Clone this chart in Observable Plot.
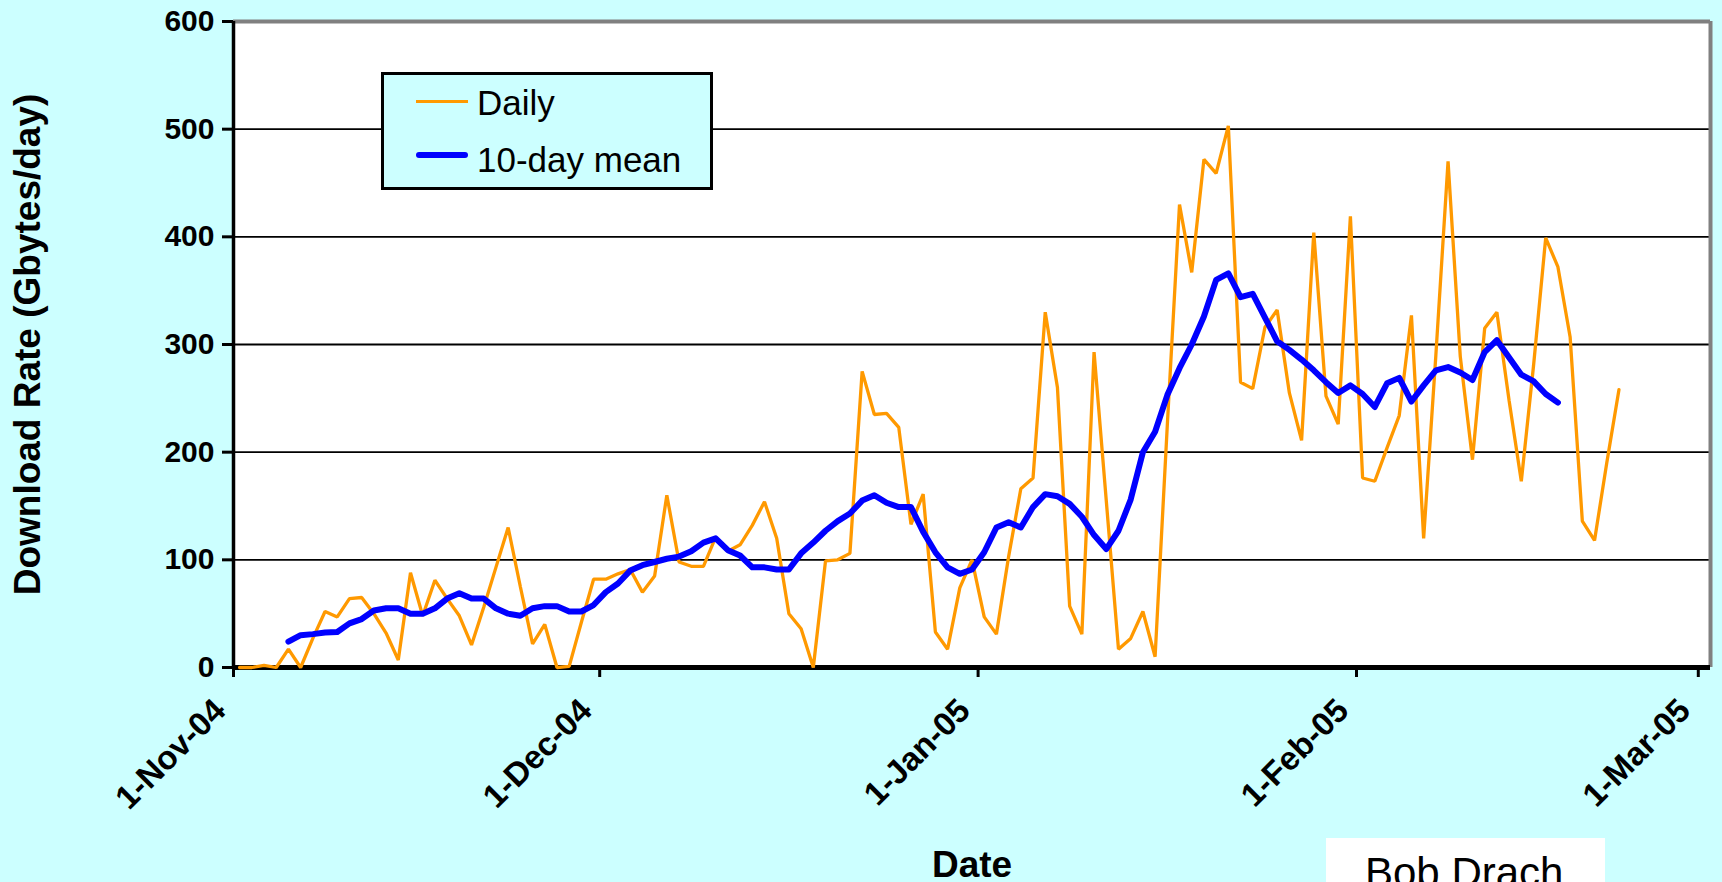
<!DOCTYPE html>
<html>
<head>
<meta charset="utf-8">
<script src="https://cdn.jsdelivr.net/npm/d3@7"></script>
<script src="https://cdn.jsdelivr.net/npm/@observablehq/plot@0.6"></script>
<style>
  html, body { margin: 0; padding: 0; background: #CCFFFF; width: 1722px; height: 882px; overflow: hidden;
    font-family: "Liberation Sans", Arial, sans-serif; }
  #wrap { position: relative; width: 1722px; height: 882px; }
  #chart svg { display: block; }
  #legend { position: absolute; left: 381px; top: 72px; width: 326px; height: 112px;
    border: 3px solid #000; background: #CCFFFF; }
  .sw { position: absolute; left: 32px; width: 52px; }
  .lt { position: absolute; left: 93px; font-size: 35px; line-height: 35px; color: #000; white-space: nowrap; }
  #credit { position: absolute; left: 1326px; top: 838px; width: 279px; height: 60px; background: #fff; }
  #credit span { position: absolute; left: 39px; top: 14px; font-size: 42px; line-height: 42px; color: #000; white-space: nowrap; }
</style>
</head>
<body>
<div id="wrap">
  <div id="chart"></div>
  <div id="legend"></div>
  <div id="credit"></div>
</div>
<script>
// ---- data ----
const startDate = "2004-11-01";          // first daily value
const endDate = "2005-03-02";            // end of the date axis
const daily = [
  0, 0, 2, 0, 17, 0, 27, 52, 47, 64,
  65, 50, 32, 7, 88, 48, 81, 64, 48, 21,
  56, 93, 130, 75, 22, 40, 0, 1, 42, 82,
  82, 87, 91, 70, 85, 160, 98, 94, 94, 121,
  108, 114, 132, 154, 120, 50, 36, 0, 99, 100,
  106, 275, 235, 236, 223, 133, 161, 33, 17, 74,
  100, 47, 31, 103, 166, 176, 330, 260, 57, 31,
  293, 155, 17, 27, 52, 10, 225, 430, 367, 472,
  459, 503, 265, 259, 316, 332, 255, 211, 404, 252,
  226, 419, 176, 173, 204, 234, 327, 120, 290, 470,
  289, 193, 315, 330, 248, 173, 280, 399, 372, 307,
  136, 118, 190, 258
];
const mean10 = [
  null, null, null, null,
  24, 30, 31, 32.5, 33, 41, 45, 53, 55, 55,
  50, 50, 55, 64, 69, 64, 64, 55, 50, 48,
  55, 57, 57, 52, 52, 58, 70, 78, 90, 95,
  98, 101, 103, 108, 116, 120, 109, 104, 93, 93,
  91, 91, 106, 116, 127, 136, 143, 155, 160, 153,
  149, 149, 126, 107, 93, 87, 91, 107, 130, 135,
  130, 149, 161, 159, 152, 140, 123, 110, 127, 156,
  200, 219, 253, 278, 300, 326, 360, 366, 344, 347,
  325, 303, 295, 286, 276, 265, 255, 262, 254, 242,
  264, 269, 247, 262, 276, 279, 274, 267, 293, 304,
  288, 272, 266, 254, 246
];
const seriesNames = ["Daily", "10-day mean"];
const seriesColors = ["#FF9900", "#0000FF"];
const yTicks = [0, 100, 200, 300, 400, 500, 600];
const gridValues = [100, 200, 300, 400, 500];
const tickDates = ["2004-11-01", "2004-12-01", "2005-01-01", "2005-02-01", "2005-03-01"];
const tickLabels = ["1-Nov-04", "1-Dec-04", "1-Jan-05", "1-Feb-05", "1-Mar-05"];
const xTitle = "Date";
const yTitle = "Download Rate (Gbytes/day)";
const credit = "Bob Drach";

// ---- build ----
const parse = d3.utcParse("%Y-%m-%d");
const x0 = parse(startDate);
const x1 = parse(endDate);
const tickObjs = tickDates.map(parse);
// Excel-style date axis: each value sits in the middle of its day
const dayMid = (i) => d3.utcHour.offset(d3.utcDay.offset(x0, i), 12);
const dailyRows = daily.map((v, i) => ({date: dayMid(i), value: v}));
const meanRows = mean10.map((v, i) => ({date: dayMid(i), value: v})).filter(d => d.value != null);

const chart = Plot.plot({
  width: 1722,
  height: 882,
  marginLeft: 233,
  marginRight: 12,
  marginTop: 21,
  marginBottom: 215,
  style: {background: "transparent", fontFamily: "'Liberation Sans', Arial, sans-serif", color: "#000", overflow: "visible"},
  x: {type: "utc", domain: [x0, x1]},
  y: {domain: [0, 600]},
  marks: [
    Plot.frame({fill: "white"}),
    Plot.ruleY(gridValues, {stroke: "#000", strokeWidth: 1.8}),
    Plot.ruleY([600], {stroke: "#808080", strokeWidth: 4}),
    Plot.ruleX([x1], {stroke: "#808080", strokeWidth: 4}),
    Plot.axisY({ticks: yTicks, tickSize: 11, tickPadding: 8, fontSize: 30, fontWeight: "bold", strokeWidth: 3, label: null}),
    Plot.axisX({ticks: tickObjs, tickSize: 10, strokeWidth: 3, tickFormat: () => "", label: null}),
    Plot.ruleX([x0], {stroke: "#000", strokeWidth: 3.5}),
    Plot.ruleY([0], {stroke: "#000", strokeWidth: 5}),
    Plot.line(dailyRows, {x: "date", y: "value", stroke: seriesColors[0], strokeWidth: 3.3, strokeLinejoin: "miter"}),
    Plot.line(meanRows, {x: "date", y: "value", stroke: seriesColors[1], strokeWidth: 6, strokeLinecap: "round", strokeLinejoin: "round"}),
    Plot.text(tickObjs, {x: d => d, text: (d, i) => tickLabels[i], frameAnchor: "bottom", rotate: -45,
      textAnchor: "end", lineAnchor: "bottom", dx: -6, dy: 45, fontSize: 33, fontWeight: "bold"}),
    Plot.text([xTitle], {frameAnchor: "bottom", dy: 209, lineAnchor: "bottom", textAnchor: "middle", fontSize: 37, fontWeight: "bold"}),
    Plot.text([yTitle], {frameAnchor: "left", dx: -194, rotate: -90, lineAnchor: "bottom", textAnchor: "middle", fontSize: 37, fontWeight: "bold"})
  ]
});
document.getElementById("chart").appendChild(chart);

// legend (inside the plot area, as in the reference)
const legend = document.getElementById("legend");
const swTops = [24.5, 77];
const swHeights = [3, 6];
const txtTops = [10, 67];
seriesNames.forEach((name, i) => {
  const sw = document.createElement("div");
  sw.className = "sw";
  sw.style.top = swTops[i] + "px";
  sw.style.height = swHeights[i] + "px";
  sw.style.background = seriesColors[i];
  if (i === 1) sw.style.borderRadius = "3px";
  legend.appendChild(sw);
  const t = document.createElement("div");
  t.className = "lt";
  t.style.top = txtTops[i] + "px";
  t.textContent = name;
  legend.appendChild(t);
});

const cr = document.createElement("span");
cr.textContent = credit;
document.getElementById("credit").appendChild(cr);
</script>
</body>
</html>
